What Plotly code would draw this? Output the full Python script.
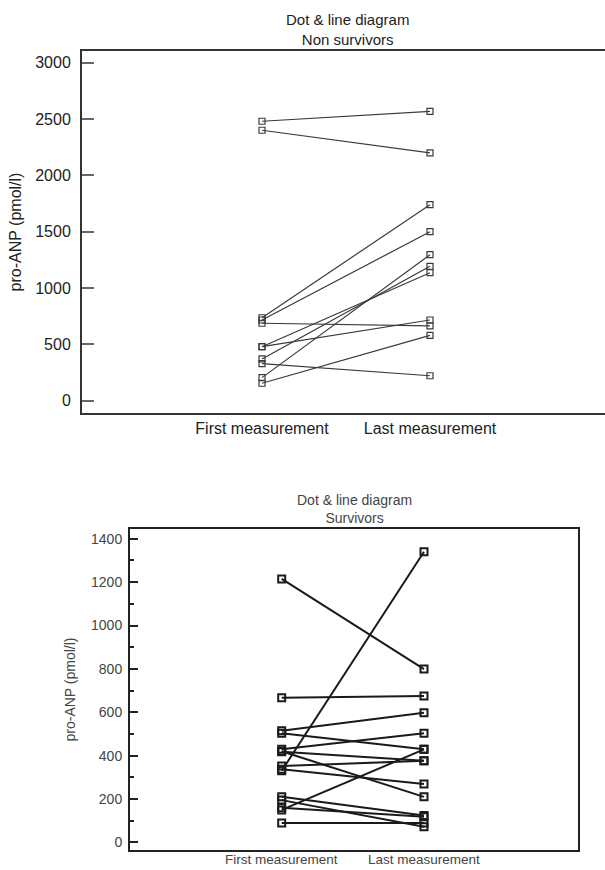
import plotly.graph_objects as go

categories = ["First measurement", "Last measurement"]

# Non survivors (top chart)
nonsurv_first = [2480, 2400, 735, 715, 686, 478, 478, 369, 327, 203, 153]
nonsurv_last = [2568, 2200, 1739, 1499, 662, 1135, 715, 1192, 220, 1295, 579]

# Survivors (bottom chart)
surv_first = [1215, 667, 515, 503, 429, 418, 420, 330, 352, 337, 150, 210, 195, 160, 90]
surv_last = [799, 675, 598, 429, 503, 376, 210, 1340, 376, 269, 429, 124, 72, 118, 90]

top_title = "Dot & line diagram<br>Non survivors"
bottom_title = "Dot & line diagram<br>Survivors"
y_title = "pro-ANP (pmol/l)"

W, H = 612, 870  # slightly wider than the window so the top chart's right border falls off-screen

fig = go.Figure()

for a, b in zip(nonsurv_first, nonsurv_last):
    fig.add_trace(go.Scatter(
        x=[0, 1], y=[a, b], mode="lines+markers",
        line=dict(color="#3a3a3a", width=1.2),
        marker=dict(symbol="square-open", size=6, color="#3a3a3a", line=dict(width=1.2)),
        xaxis="x", yaxis="y", showlegend=False, hoverinfo="y"))

for a, b in zip(surv_first, surv_last):
    fig.add_trace(go.Scatter(
        x=[0, 1], y=[a, b], mode="lines+markers",
        line=dict(color="#1a1a1a", width=2),
        marker=dict(symbol="square-open", size=7, color="#1a1a1a", line=dict(width=2)),
        xaxis="x2", yaxis="y2", showlegend=False, hoverinfo="y"))

top_font = dict(family="Liberation Sans, Arial, sans-serif", size=16, color="#222222")
bot_family = "Liberation Sans Narrow, Liberation Sans, Arial, sans-serif"
bot_font = dict(family=bot_family, size=14, color="#444444")

# top plot: x pixels 82..612, first at 262, last at 430
tx0 = (82 - 262) / 168.0
tx1 = (W - 262) / 168.0
# bottom plot: x pixels 130..578, first at 281.7, last at 424
bx0 = (130 - 281.7) / 142.3
bx1 = (578 - 281.7) / 142.3

annotations = [
    dict(text=top_title, x=(82 + W) / 2 / W, y=1 - 30/H, xref="paper", yref="paper",
         showarrow=False, font=dict(family="Liberation Sans, Arial, sans-serif", size=15, color="#222222"),
         xanchor="center", yanchor="middle"),
    dict(text=bottom_title, x=(130 + 578) / 2 / W, y=1 - 509/H, xref="paper", yref="paper",
         showarrow=False, font=dict(family=bot_family, size=14, color="#444444"),
         xanchor="center", yanchor="middle"),
]
for i, c in enumerate(categories):
    annotations.append(dict(text=c, x=i, xref="x2", y=1 - 859/H, yref="paper", showarrow=False,
                            font=dict(family=bot_family, size=13.5, color="#444444"),
                            xanchor="center", yanchor="middle"))

fig.update_layout(
    width=W, height=H, autosize=False,
    margin=dict(l=0, r=0, t=0, b=0, autoexpand=False),
    paper_bgcolor="white", plot_bgcolor="white",
    xaxis=dict(domain=[82/W, 1.0], anchor="y", range=[tx0, tx1], automargin=False,
               tickvals=[0, 1], ticktext=categories, ticks="", showgrid=False,
               zeroline=False, showline=True, mirror=True, linecolor="#333333",
               linewidth=2, tickfont=top_font),
    yaxis=dict(domain=[1 - 413/H, 1 - 51/H], anchor="x", range=[-111, 3104], automargin=False,
               dtick=500, tick0=0, ticks="inside", ticklen=12, tickwidth=2,
               tickcolor="#666666", showgrid=False, zeroline=False,
               showline=True, mirror=False, linecolor="#333333", linewidth=2,
               tickfont=top_font, ticklabelstandoff=6,
               title=dict(text=y_title, font=top_font, standoff=10)),
    xaxis2=dict(domain=[130/W, 578/W], anchor="y2", range=[bx0, bx1], automargin=False,
                tickvals=[0, 1], showticklabels=False, ticks="", showgrid=False,
                zeroline=False, showline=True, mirror=True, linecolor="#222222",
                linewidth=2),
    yaxis2=dict(domain=[1 - 850/H, 1 - 529/H], anchor="x2", range=[-35, 1445], automargin=False,
                dtick=200, tick0=0, ticks="inside", ticklen=8, tickwidth=2,
                tickcolor="#222222", showgrid=False, zeroline=False,
                showline=True, mirror=True, linecolor="#222222", linewidth=2,
                tickfont=bot_font, ticklabelstandoff=3,
                minor=dict(dtick=100, ticks="inside", ticklen=4, tickwidth=2, tickcolor="#222222"),
                title=dict(text=y_title, font=bot_font, standoff=12)),
    annotations=annotations,
)

post = """
document.documentElement.style.margin='0';
document.documentElement.style.overflow='hidden';
document.body.style.margin='0';
document.body.style.padding='0';
document.body.style.overflow='hidden';
var gd = document.getElementById('{plot_id}');
Plotly.relayout(gd, {width: %d, height: %d});
""" % (W, H)

fig.write_html("out.html", config={"responsive": False, "displayModeBar": False}, post_script=post)
